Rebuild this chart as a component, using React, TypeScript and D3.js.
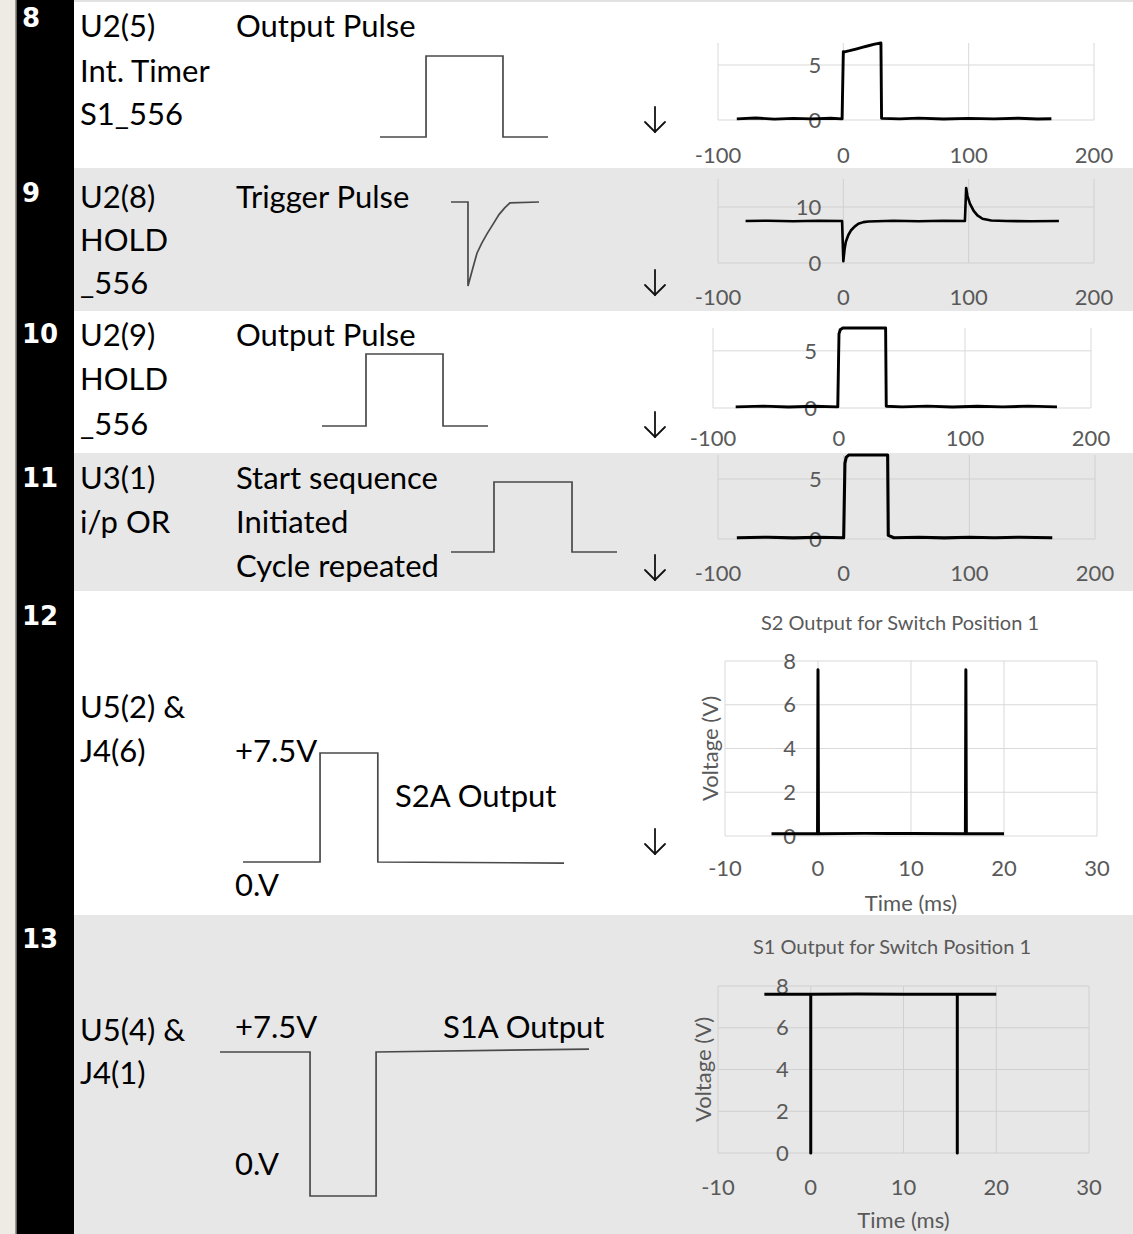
import React from "react";
import * as d3 from "d3";

// ---------- DATA ----------
const stepNumbers = ["8", "9", "10", "11", "12", "13"];
const pinLabels = [
  ["U2(5)", "Int. Timer", "S1_556"],
  ["U2(8)", "HOLD", "_556"],
  ["U2(9)", "HOLD", "_556"],
  ["U3(1)", "i/p OR"],
  ["U5(2) &", "J4(6)"],
  ["U5(4) &", "J4(1)"],
];
const descLabels = [
  ["Output Pulse"],
  ["Trigger Pulse"],
  ["Output Pulse"],
  ["Start sequence", "Initiated", "Cycle repeated"],
  [],
  [],
];
const levelLabels12 = ["+7.5V", "S2A Output", "0.V"];
const levelLabels13 = ["+7.5V", "S1A Output", "0.V"];

// schematic (idealised) waveforms, normalised time 0..1, level 0..1
const sketchPulseT8 = [0, 0.274, 0.274, 0.732, 0.732, 1];
const sketchPulseV8 = [0, 0, 1, 1, 0, 0];
const sketchTrigT9 = [0, 0.193, 0.193, 0.25, 0.295, 0.35, 0.409, 0.48, 0.545, 0.61, 0.67, 1];
const sketchTrigV9 = [1, 1, 0, 0.22, 0.39, 0.51, 0.62, 0.74, 0.85, 0.93, 0.99, 1];
const sketchPulseT10 = [0, 0.265, 0.265, 0.729, 0.729, 1];
const sketchPulseV10 = [0, 0, 1, 1, 0, 0];
const sketchPulseT11 = [0, 0.259, 0.259, 0.729, 0.729, 1];
const sketchPulseV11 = [0, 0, 1, 1, 0, 0];
const sketchPulseT12 = [0, 0.24, 0.24, 0.42, 0.42, 1];
const sketchPulseV12 = [0, 0, 1, 1, 0, -0.01];
const sketchPulseT13 = [0, 0.244, 0.244, 0.423, 0.423, 1];
const sketchPulseV13 = [1, 1, 0, 0, 1, 1.02];

// measured traces
const c8T = [-85, -70, -55, -40, -25, -10, -1, 0, 1, 5, 10, 15, 20, 25, 30, 30.5, 45, 60, 80, 100, 120, 140, 155, 166];
const c8V = [0.1, 0.18, 0.08, 0.15, 0.1, 0.16, 0.1, 6.2, 6.2, 6.3, 6.45, 6.6, 6.75, 6.9, 7.0, 0.15, 0.1, 0.17, 0.09, 0.15, 0.1, 0.16, 0.09, 0.12];

const c9T = [-78, -60, -40, -20, -1, 0, 1, 2, 4, 6, 9, 12, 16, 20, 40, 60, 80, 97, 98, 99, 101, 104, 107, 111, 118, 130, 150, 172];
const c9V = [7.5, 7.55, 7.45, 7.55, 7.5, 0.3, 2.5, 3.8, 5.0, 5.8, 6.5, 7.0, 7.3, 7.4, 7.55, 7.45, 7.55, 7.5, 13.4, 12.0, 10.6, 9.3, 8.5, 7.9, 7.6, 7.5, 7.45, 7.5];

const c10T = [-82, -60, -40, -20, -1, 0, 1, 3, 20, 37, 37.5, 50, 70, 90, 110, 130, 150, 173];
const c10V = [0.1, 0.16, 0.09, 0.15, 0.1, 6.5, 6.85, 7.0, 7.0, 7.0, 0.15, 0.1, 0.16, 0.09, 0.15, 0.1, 0.16, 0.1];

const c11T = [-85, -60, -40, -20, 0, 1, 2, 4, 20, 35, 35.5, 40, 60, 80, 100, 120, 140, 166];
const c11V = [0.1, 0.15, 0.09, 0.14, 0.1, 6.3, 6.8, 7.0, 7.0, 7.0, 0.3, 0.1, 0.15, 0.09, 0.14, 0.1, 0.15, 0.1];

const c12T = [-5, -0.05, 0, 0.05, 5, 7.7, 8.5, 10, 15.85, 15.9, 15.95, 20];
const c12V = [0.1, 0.1, 7.6, 0.1, 0.12, 0.12, 0.12, 0.12, 0.1, 7.6, 0.1, 0.1];

const c13T = [-5, 0, 0, 0, 5, 10, 15.8, 15.8, 15.8, 20];
const c13V = [7.6, 7.6, 0, 7.6, 7.62, 7.6, 7.6, 0, 7.6, 7.6];

const xTicksMs = [-100, 0, 100, 200];
const xTicksT = [-10, 0, 10, 20, 30];
const yTicks5 = [0, 5];
const yTicks10 = [0, 10];
const yTicksV = [0, 2, 4, 6, 8];

// ---------- LAYOUT ----------
const W = 1133;
const H = 1234;
const FONT = "Lato, 'Open Sans', sans-serif";
const TXT = 31;
const WHITE = "#ffffff";
const GRAY = "#e7e7e7";

const rows = [
  { y0: 0, y1: 168, fill: WHITE, numBase: 27, pinBase: [37, 82, 125], descBase: [37] },
  { y0: 168, y1: 311, fill: GRAY, numBase: 202, pinBase: [208, 251, 294], descBase: [208] },
  { y0: 311, y1: 453, fill: WHITE, numBase: 343, pinBase: [346, 390, 435], descBase: [346] },
  { y0: 453, y1: 591, fill: GRAY, numBase: 487, pinBase: [489, 533], descBase: [489, 533, 577] },
  { y0: 591, y1: 915, fill: WHITE, numBase: 625, pinBase: [718, 762], descBase: [] },
  { y0: 915, y1: 1234, fill: GRAY, numBase: 948, pinBase: [1041, 1084], descBase: [] },
];

const sketches = [
  { t: sketchPulseT8, v: sketchPulseV8, x0: 380, x1: 548, yLow: 137, yHigh: 56 },
  { t: sketchTrigT9, v: sketchTrigV9, x0: 451, x1: 539, yLow: 286, yHigh: 202 },
  { t: sketchPulseT10, v: sketchPulseV10, x0: 322, x1: 488, yLow: 426, yHigh: 354 },
  { t: sketchPulseT11, v: sketchPulseV11, x0: 451, x1: 617, yLow: 552, yHigh: 482 },
  { t: sketchPulseT12, v: sketchPulseV12, x0: 243, x1: 564, yLow: 862, yHigh: 753 },
  { t: sketchPulseT13, v: sketchPulseV13, x0: 220, x1: 589, yLow: 1196, yHigh: 1052 },
];

const arrowsY = [120, 283, 425, 568, 842];

const charts = [
  { t: c8T, v: c8V, xd: [-100, 200], yd: [0, 7], xt: xTicksMs, yt: yTicks5, left: 718, right: 1094, bottom: 120, top: 43, xLabY: 155, grid: "#d9d9d9", lw: 2.9 },
  { t: c9T, v: c9V, xd: [-100, 200], yd: [0, 15], xt: xTicksMs, yt: yTicks10, left: 718, right: 1094, bottom: 263, top: 179, xLabY: 297, grid: "#d0d0d0", lw: 2.6 },
  { t: c10T, v: c10V, xd: [-100, 200], yd: [0, 7], xt: xTicksMs, yt: yTicks5, left: 713, right: 1091, bottom: 408, top: 328, xLabY: 438, grid: "#d9d9d9", lw: 2.9 },
  { t: c11T, v: c11V, xd: [-100, 200], yd: [0, 7], xt: xTicksMs, yt: yTicks5, left: 718, right: 1095, bottom: 539, top: 455, xLabY: 573, grid: "#d0d0d0", lw: 3.1 },
  { t: c12T, v: c12V, xd: [-10, 30], yd: [0, 8], xt: xTicksT, yt: yTicksV, left: 725, right: 1097, bottom: 836, top: 661, xLabY: 868, grid: "#d9d9d9", lw: 3,
    title: "S2 Output for Switch Position 1", titleX: 900, titleY: 623, xTitleY: 903, yTitleX: 710 },
  { t: c13T, v: c13V, xd: [-10, 30], yd: [0, 8], xt: xTicksT, yt: yTicksV, left: 718, right: 1089, bottom: 1153, top: 986, xLabY: 1187, grid: "#d0d0d0", lw: 3,
    title: "S1 Output for Switch Position 1", titleX: 892, titleY: 947, xTitleY: 1220, yTitleX: 703 },
];

function Sketch({ s }: any) {
  const x = d3.scaleLinear().domain([0, 1]).range([s.x0, s.x1]);
  const y = d3.scaleLinear().domain([0, 1]).range([s.yLow, s.yHigh]);
  const line = d3
    .line<number>()
    .x((_, i) => x(s.t[i]))
    .y((d) => y(d));
  return <path d={line(s.v) || ""} fill="none" stroke="#4a4a4a" strokeWidth={1.7} />;
}

function Arrow({ cy }: { cy: number }) {
  const cx = 655;
  return (
    <g stroke="#111" strokeWidth={1.8} fill="none" strokeLinecap="round">
      <line x1={cx} y1={cy - 13} x2={cx} y2={cy + 12} />
      <polyline points={`${cx - 10},${cy + 2} ${cx},${cy + 12} ${cx + 10},${cy + 2}`} />
    </g>
  );
}

function Chart({ c }: any) {
  const x = d3.scaleLinear().domain(c.xd).range([c.left, c.right]);
  const y = d3.scaleLinear().domain(c.yd).range([c.bottom, c.top]);
  const line = d3
    .line<number>()
    .x((_, i) => x(c.t[i]))
    .y((d) => y(d));
  const axisX = x(0);
  const big = !!c.title;
  return (
    <g>
      {c.xt.map((t: number) => (
        <line key={"vx" + t} x1={x(t)} x2={x(t)} y1={c.bottom} y2={c.top} stroke={c.grid} strokeWidth={1} />
      ))}
      {c.yt.map((t: number) => (
        <line key={"hy" + t} x1={c.left} x2={c.right} y1={y(t)} y2={y(t)} stroke={c.grid} strokeWidth={1} />
      ))}
      {c.xt.map((t: number) => (
        <text key={"xl" + t} x={x(t)} y={c.xLabY} dy="0.35em" textAnchor="middle" fontFamily={FONT} fontSize={22} fill="#595959">
          {t}
        </text>
      ))}
      {c.yt.map((t: number) => (
        <text key={"yl" + t} x={axisX - 22} y={y(t)} dy="0.35em" textAnchor="end" fontFamily={FONT} fontSize={22} fill="#595959">
          {t}
        </text>
      ))}
      {big && (
        <>
          <text x={c.titleX} y={c.titleY} dy="0.35em" textAnchor="middle" fontFamily={FONT} fontSize={20} fill="#595959">
            {c.title}
          </text>
          <text x={x(10)} y={c.xTitleY} dy="0.35em" textAnchor="middle" fontFamily={FONT} fontSize={22} fill="#595959">
            Time (ms)
          </text>
          <text
            transform={`translate(${c.yTitleX},${(c.top + c.bottom) / 2}) rotate(-90)`}
            dy="0.35em"
            textAnchor="middle"
            fontFamily={FONT}
            fontSize={22}
            fill="#595959"
          >
            Voltage (V)
          </text>
        </>
      )}
      <path d={line(c.v) || ""} fill="none" stroke="#000" strokeWidth={c.lw} strokeLinejoin="round" />
    </g>
  );
}

export default function App() {
  return (
    <svg
      width={W}
      height={H}
      viewBox={`0 0 ${W} ${H}`}
      style={{ position: "fixed", left: 0, top: 0, display: "block" }}
    >
      <rect x={0} y={0} width={W} height={H} fill="#ffffff" />
      {rows.map((r, i) => (
        <rect key={"bg" + i} x={74} y={r.y0} width={W - 74} height={r.y1 - r.y0} fill={r.fill} />
      ))}
      <rect x={74} y={0} width={W - 74} height={2} fill="#e2e2e2" />
      {/* left margin and number column */}
      <rect x={0} y={0} width={16} height={H} fill="#eeebe4" />
      <rect x={15} y={0} width={1.5} height={H} fill="#9a9891" />
      <rect x={16.5} y={0} width={57.5} height={H} fill="#000" />

      {rows.map((r, i) => (
        <g key={"txt" + i}>
          <text x={22} y={r.numBase} fontFamily="'DejaVu Sans', sans-serif" fontWeight="bold" fontSize={26} fill="#fff">
            {stepNumbers[i]}
          </text>
          {pinLabels[i].map((s, j) => (
            <text key={j} x={80} y={r.pinBase[j]} fontFamily={FONT} fontSize={TXT} fill="#000">
              {s}
            </text>
          ))}
          {descLabels[i].map((s, j) => (
            <text key={j} x={236} y={r.descBase[j]} fontFamily={FONT} fontSize={TXT} fill="#000">
              {s}
            </text>
          ))}
        </g>
      ))}

      <text x={235} y={762} fontFamily={FONT} fontSize={TXT} fill="#000">{levelLabels12[0]}</text>
      <text x={395} y={807} fontFamily={FONT} fontSize={TXT} fill="#000">{levelLabels12[1]}</text>
      <text x={235} y={896} fontFamily={FONT} fontSize={TXT} fill="#000">{levelLabels12[2]}</text>
      <text x={235} y={1038} fontFamily={FONT} fontSize={TXT} fill="#000">{levelLabels13[0]}</text>
      <text x={443} y={1038} fontFamily={FONT} fontSize={TXT} fill="#000">{levelLabels13[1]}</text>
      <text x={235} y={1175} fontFamily={FONT} fontSize={TXT} fill="#000">{levelLabels13[2]}</text>

      {sketches.map((s, i) => (
        <Sketch key={"sk" + i} s={s} />
      ))}
      {arrowsY.map((y, i) => (
        <Arrow key={"ar" + i} cy={y} />
      ))}
      {charts.map((c, i) => (
        <Chart key={"ch" + i} c={c} />
      ))}
    </svg>
  );
}
